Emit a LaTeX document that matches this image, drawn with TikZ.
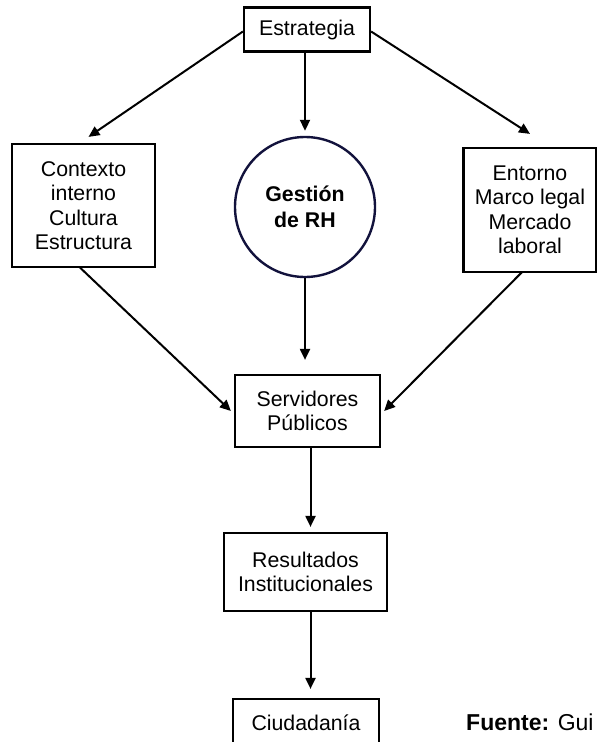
\documentclass[tikz,border=0pt]{standalone}
\usepackage{fontspec}
\setmainfont{Liberation Sans}
\usetikzlibrary{arrows.meta}
\definecolor{ringline}{RGB}{18,18,60}
\begin{document}
\begin{tikzpicture}[x=1bp,y=-1bp,
  box/.style={draw=black,line width=2.2bp,fill=white,align=center,inner sep=0pt},
  ring/.style={draw=ringline,line width=2.4bp,circle,align=center,inner sep=0pt,minimum size=140bp},
  arr/.style={line width=2bp,-{Triangle[length=11bp,width=10bp]}},
  font=\fontsize{21.3bp}{24.5bp}\selectfont]
\useasboundingbox (0,0) rectangle (597,742);
\clip (0,0) rectangle (597,742);
\fill[white] (0,0) rectangle (597,742);

% boxes
\node[box,minimum width=126bp,minimum height=44bp] (estr) at (307,29.5) {Estrategia};
\node[box,minimum width=143bp,minimum height=123bp] (ctx) at (83.5,205.5)
  {Contexto\\interno\\Cultura\\Estructura};
\node[ring,font=\fontsize{21.3bp}{26bp}\selectfont\bfseries] (gest) at (305,207) {Gestión\\de RH};
\node[box,minimum width=133bp,minimum height=124bp] (ent) at (530,210)
  {Entorno\\Marco legal\\Mercado\\laboral};
\node[box,minimum width=145bp,minimum height=72bp] (serv) at (307.5,411) {Servidores\\Públicos};
\node[box,minimum width=163bp,minimum height=78bp] (res) at (305.5,572) {Resultados\\Institucionales};
\node[box,minimum width=146bp,minimum height=48bp] (ciu) at (306,723) {Ciudadanía};
\node[anchor=west,inner sep=0pt,font=\fontsize{23bp}{26bp}\selectfont] (src) at (466,722)
  {\textbf{Fuente:} Gui};

% connectors
\draw[arr] ([yshift=-2bp]estr.west) -- ([xshift=5bp,yshift=6bp]ctx.north);
\draw[arr] ([xshift=-2bp]estr.south) -- ([xshift=-2bp,yshift=5bp]estr.south |- gest.north);
\draw[arr] ([yshift=-2bp]estr.east) -- ([yshift=13bp]ent.north);
\draw[arr] ([xshift=-4bp,yshift=1bp]ctx.south) -- ([xshift=-3bp]serv.west);
\draw[arr] (gest.south) -- ([yshift=14bp]gest.south |- serv.north);
\draw[arr] ([xshift=-8bp,yshift=1bp]ent.south) -- ([xshift=3bp]serv.east);
\draw[arr] ([xshift=3bp]serv.south) -- ([xshift=3bp,yshift=5bp]serv.south |- res.north);
\draw[arr] ([xshift=5bp]res.south) -- ([xshift=5bp,yshift=9bp]res.south |- ciu.north);
\end{tikzpicture}
\end{document}
